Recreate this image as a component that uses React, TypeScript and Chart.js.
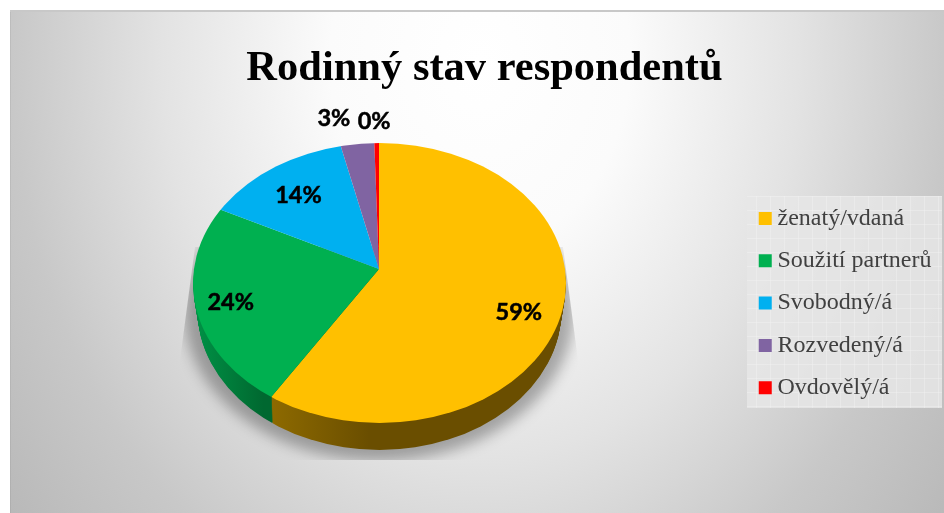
import React, { useEffect, useRef } from "react";
import { Chart, registerables } from "chart.js";

Chart.register(...registerables);

const chartTitle = "Rodinný stav respondentů";
const categories = ["ženatý/vdaná", "Soužití partnerů", "Svobodný/á", "Rozvedený/á", "Ovdovělý/á"];
const shares = [59.49, 23.55, 13.66, 2.9, 0.4];
const sliceColors = ["#FFC000", "#00B050", "#00B0F0", "#8064A2", "#FF0000"];
const labelNudges = [
  [-1, 9],
  [-5, 6],
  [7, 7],
  [-28, -52],
  [-3, -48],
];

const WIDTH = 944;
const HEIGHT = 513;
const BACK_SQUASH = 0.676; // the far half of the disc is foreshortened more
const FRONT_SQUASH = 0.806;
const OVERSCAN = 1.08; // slices overshoot, the rim ellipse trims them
const DEPTH = 27;
const RIM_RX = 186.5;
const RIM_RY = 140;
const RIM_CY = 283;

function rimClip(ctx: any, cx: number, d: number, rx: number) {
  ctx.beginPath();
  ctx.ellipse(cx + 0.5, RIM_CY + d, rx, RIM_RY, 0, 0, Math.PI * 2);
  ctx.clip();
}

const scene = {
  id: "scene",
  beforeDraw(chart: any) {
    const ctx = chart.ctx;
    ctx.save();
    ctx.fillStyle = "#ffffff";
    ctx.fillRect(0, 0, WIDTH, HEIGHT);
    ctx.translate(480, 60);
    ctx.scale(1, 1.25);
    const g = ctx.createRadialGradient(0, 0, 0, 0, 0, 600);
    g.addColorStop(0, "#ffffff");
    g.addColorStop(0.25, "#fbfbfb");
    g.addColorStop(0.53, "#e3e3e3");
    g.addColorStop(0.78, "#c8c8c8");
    g.addColorStop(1, "#b8b8b8");
    ctx.fillStyle = g;
    ctx.fillRect(-470, -50 / 1.25, 934, 503 / 1.25);
    ctx.restore();
    ctx.fillStyle = "#c8c8c8";
    ctx.fillRect(10, 10, 934, 2);
    ctx.fillStyle = "rgba(0,0,0,0.05)";
    ctx.fillRect(10, 12, 1, HEIGHT - 12);

    // legend panel with its faint weave
    const tile = document.createElement("canvas");
    tile.width = 14;
    tile.height = 14;
    const t = tile.getContext("2d")!;
    t.fillStyle = "rgba(230,230,230,0.85)";
    t.fillRect(0, 0, 14, 14);
    t.fillStyle = "rgba(245,245,245,0.35)";
    t.fillRect(0, 0, 14, 1);
    t.fillRect(0, 0, 1, 14);
    ctx.fillStyle = ctx.createPattern(tile, "repeat");
    ctx.fillRect(747, 196, 195, 212);
  },
  afterLayout(chart: any) {
    const { legend, titleBlock } = chart;
    if (legend) {
      legend.left = 746.7;
      legend.right = 942;
      legend.top = 188.2;
      legend.bottom = 420;
    }
    if (titleBlock) {
      titleBlock.left = 25;
      titleBlock.right = WIDTH;
      titleBlock.top += 18;
      titleBlock.bottom += 18;
    }
  },
  beforeDatasetDraw(chart: any) {
    const ctx = chart.ctx;
    const arcs = chart.getDatasetMeta(0).data;
    const { x: cx, y: cy } = arcs[0];

    // soft shadow under the disc, tapering away up both sides
    ctx.save();
    ctx.beginPath();
    ctx.moveTo(195, 247);
    ctx.lineTo(180, 360);
    ctx.lineTo(180, 460);
    ctx.lineTo(578, 460);
    ctx.lineTo(578, 360);
    ctx.lineTo(563, 247);
    ctx.closePath();
    ctx.clip();
    ctx.filter = "blur(7px)";
    ctx.fillStyle = "rgba(0,0,0,0.3)";
    ctx.beginPath();
    ctx.ellipse(cx, 311, 195, 150, 0, 0, Math.PI * 2);
    ctx.fill();
    ctx.restore();

    // the side wall: the front half of the disc stacked downward
    const yellow = ctx.createLinearGradient(272, 0, 370, 0);
    yellow.addColorStop(0, "#906C00");
    yellow.addColorStop(1, "#6A4E00");
    const green = ctx.createLinearGradient(195, 0, 272, 0);
    green.addColorStop(0, "#009A4A");
    green.addColorStop(1, "#006830");
    const walls = [yellow, green, "#0080B0", "#5C4878", "#B00000"];

    for (let d = DEPTH; d >= 1; d--) {
      ctx.save();
      rimClip(ctx, cx, d, RIM_RX * (1 - (0.024 * d) / DEPTH));
      ctx.beginPath();
      ctx.rect(0, cy + d, WIDTH, HEIGHT);
      ctx.clip();
      ctx.translate(cx, cy + d);
      ctx.scale(OVERSCAN, FRONT_SQUASH * OVERSCAN);
      ctx.translate(-cx, -cy);
      arcs.forEach((arc: any, i: number) => {
        const saved = arc.options;
        arc.options = { ...saved, backgroundColor: walls[i], borderWidth: 0 };
        arc.draw(ctx);
        arc.options = saved;
      });
      ctx.restore();
    }

    // the library draws the front half of the top face inside this transform
    ctx.save();
    rimClip(ctx, cx, 0, RIM_RX);
    ctx.beginPath();
    ctx.rect(0, cy, WIDTH, HEIGHT);
    ctx.clip();
    ctx.translate(cx, cy);
    ctx.scale(OVERSCAN, FRONT_SQUASH * OVERSCAN);
    ctx.translate(-cx, -cy);
  },
  afterDatasetDraw(chart: any) {
    const ctx = chart.ctx;
    ctx.restore();
    const arcs = chart.getDatasetMeta(0).data;
    const { x: cx, y: cy } = arcs[0];

    // back half of the top face
    ctx.save();
    rimClip(ctx, cx, 0, RIM_RX);
    ctx.beginPath();
    ctx.rect(0, 0, WIDTH, cy);
    ctx.clip();
    ctx.translate(cx, cy);
    ctx.scale(OVERSCAN, BACK_SQUASH * OVERSCAN);
    ctx.translate(-cx, -cy);
    arcs.forEach((arc: any) => arc.draw(ctx));
    ctx.restore();

    const total = shares.reduce((a, b) => a + b, 0);
    ctx.save();
    ctx.font = "bold 23.5px Lato";
    ctx.fillStyle = "#000000";
    ctx.strokeStyle = "#000000";
    ctx.lineWidth = 0.5;
    ctx.textAlign = "center";
    ctx.textBaseline = "middle";
    arcs.forEach((arc: any, i: number) => {
      const mid = (arc.startAngle + arc.endAngle) / 2;
      const r = arc.outerRadius * 0.79;
      const k = Math.sin(mid) > 0 ? FRONT_SQUASH : BACK_SQUASH;
      const x = arc.x + Math.cos(mid) * r + labelNudges[i][0];
      const y = arc.y + Math.sin(mid) * r * k + labelNudges[i][1];
      const text = `${Math.round((shares[i] / total) * 100)}%`;
      ctx.fillText(text, x, y);
      ctx.strokeText(text, x, y);
    });
    ctx.restore();
  },
};

export default function App() {
  const ref = useRef<HTMLCanvasElement>(null);
  useEffect(() => {
    document.body.style.margin = "0";
    const chart = new Chart(ref.current!, {
      type: "pie",
      data: {
        labels: categories,
        datasets: [{ data: shares, backgroundColor: sliceColors, borderWidth: 0, clip: false }],
      },
      options: {
        responsive: false,
        animation: false,
        devicePixelRatio: 1,
        layout: { padding: { left: 192.5, right: 378.5, top: 0, bottom: 57.5 } },
        plugins: {
          tooltip: { enabled: false },
          title: {
            display: true,
            text: chartTitle,
            color: "#000000",
            font: { family: "'Liberation Serif'", size: 42.5, weight: "bold", lineHeight: 1 },
            padding: { top: 30, bottom: 10 },
          },
          legend: {
            display: true,
            position: "chartArea",
            align: "start",
            labels: {
              color: "#404040",
              font: { family: "'Liberation Serif'", size: 24 },
              padding: 18.3,
              boxWidth: 0.5,
              boxHeight: 0.5,
              generateLabels: (c: any) =>
                c.data.labels.map((text: string, i: number) => ({
                  text,
                  index: i,
                  fillStyle: sliceColors[i],
                  strokeStyle: sliceColors[i],
                  fontColor: "#404040",
                  lineWidth: 12.5,
                  lineJoin: "miter",
                  hidden: false,
                })),
            },
          },
        },
      } as any,
      plugins: [scene],
    });
    return () => chart.destroy();
  }, []);
  return <canvas ref={ref} width={WIDTH} height={HEIGHT} style={{ display: "block", width: WIDTH, height: HEIGHT }} />;
}
